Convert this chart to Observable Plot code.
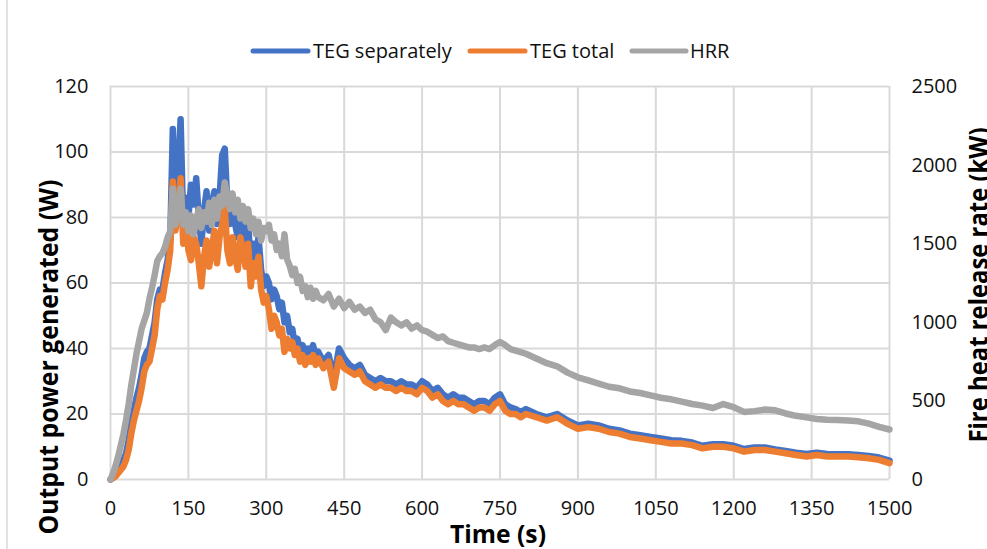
<!DOCTYPE html>
<html><head><meta charset="utf-8">
<script src="https://cdn.jsdelivr.net/npm/d3@7"></script>
<script src="https://cdn.jsdelivr.net/npm/@observablehq/plot@0.6"></script>
<style>
html,body{margin:0;padding:0;background:#fff;}
#chart{position:relative;width:987px;height:549px;overflow:hidden;}
</style></head><body><div id="chart"></div>
<script>
// Time (s)
const time = [
  0,5,10,15,20,25,30,35,40,45,
  50,55,60,65,70,75,80,85,90,95,
  100,105,110,115,120,125,130,135,140,145,
  150,155,160,165,170,175,180,185,190,195,
  200,205,210,215,220,225,230,235,240,245,
  250,255,260,265,270,275,280,285,290,295,
  300,305,310,315,320,325,330,335,340,345,
  350,355,360,365,370,375,380,385,390,395,
  400,
  410,420,430,440,450,460,470,480,490,500,
  510,520,530,540,550,560,570,580,590,600,
  610,620,630,640,650,660,670,680,690,700,
  710,720,730,740,750,760,770,780,790,800,
  820,840,860,880,900,920,940,960,980,1000,
  1020,1040,1060,1080,1100,1120,1140,1160,1180,1200,
  1220,1240,1260,1280,1300,1320,1340,1360,1380,1400,
  1420,1440,1460,1480,1500
];
// TEG separately (W)
const tegSeparately = [
  0,0.5,1.5,3,4,6,8,12,17,21,
  25,28,32,37,39,40,44,48,55,58,
  58,63,67,73,107,82,92,110,78,86,
  80,90,84,92,80,72,82,88,76,84,
  88,78,86,99,101,84,78,84,78,74,
  80,76,72,78,66,72,68,74,64,59,
  62,60,55,58,56,52,54,48,50,45,
  46,41,43,39,41,38,40,39,41,38,
  39,
  36,38,31,40,37,35,34,35,32,31,
  30,31,30,30,29,30,29,29,28,30,
  29,27,28,26,25,26,25,25,24,23,
  24,24,23,25,26,23,22,21.5,20.5,21.5,
  20,19,20,18,16.5,17,16.5,15.5,15,14,
  13.5,13,12.5,12,11.8,11.3,10.3,10.8,10.8,10.3,
  9.3,9.8,9.8,9.2,8.7,8.2,7.8,8.2,7.8,7.7,
  7.7,7.5,7.2,6.7,5.8
];
// TEG total (W)
const tegTotal = [
  0,0.5,1,2,3,4,6,9,14,18,
  21,24,28,33,35,36,40,44,52,56,
  55,60,64,70,91,76,82,92,72,80,
  70,67,74,72,66,59,68,73,65,70,
  76,66,74,78,83,70,66,74,68,64,
  74,70,65,72,59,66,62,68,58,54,
  56,52,46,50,48,44,46,39,43,40,
  42,38,40,36,38,35,37,36,38,35,
  37,
  34,36,28,37,34,33,32,33,30,29,
  28,29,28,28,27,28,27,27,26,28,
  27,25,26,24,23,24,23,23,22,21,
  22,22,21,23,24,21,20,20,19,20,
  19,18,19,17,15.5,16,15.5,14.5,14,13,
  12.5,12,11.5,11,11,10.5,9.5,10,10,9.5,
  8.5,9,9,8.5,8,7.5,7,7.5,7,7,
  7,6.8,6.5,6,5
];
// HRR (kW)
const hrr = [
  0,40,90,150,220,290,380,480,600,700,
  800,880,960,1010,1060,1150,1220,1300,1390,1420,
  1440,1480,1540,1580,1850,1620,1720,1850,1620,1700,
  1580,1680,1560,1650,1720,1600,1700,1640,1760,1620,
  1780,1660,1800,1740,1890,1800,1720,1820,1700,1780,
  1660,1740,1640,1720,1600,1660,1560,1640,1520,1600,
  1580,1620,1520,1560,1460,1500,1420,1560,1400,1360,
  1300,1340,1250,1290,1200,1230,1160,1220,1150,1200,
  1160,
  1140,1180,1100,1150,1090,1130,1080,1100,1060,1080,
  1020,1000,950,1030,1000,980,1000,960,980,950,
  940,920,900,910,880,870,860,850,840,840,
  830,840,830,855,875,855,830,820,810,800,
  770,740,720,680,650,630,610,590,580,560,
  550,535,520,510,495,480,470,455,480,460,
  430,435,445,440,420,405,395,385,380,378,
  375,370,355,335,318
];
const xTicks = [0,150,300,450,600,750,900,1050,1200,1350,1500];
const yTicks = [0,20,40,60,80,100,120];
const hrrTicks = [0,500,1000,1500,2000,2500];
const seriesNames = ["TEG separately","TEG total","HRR"];
const seriesColors = ["#4472c4","#ed7d31","#a5a5a5"];

const k = 120/2500; // right axis (kW) -> left axis (W)
const data = time.map((t,i)=>({t, sep: tegSeparately[i], tot: tegTotal[i], hrrW: hrr[i]*k}));

const lineOpts = {x:"t", strokeWidth:6.5, strokeLinejoin:"round", strokeLinecap:"round"};
const plot = Plot.plot({
  width:987, height:549,
  marginTop:86, marginBottom:70, marginLeft:110, marginRight:98,
  style:{fontFamily:"'Open Sans', sans-serif", fontSize:"20px", color:"#111", background:"#fff"},
  x:{domain:[0,1500]},
  y:{domain:[0,120]},
  marks:[
    Plot.gridX({ticks:xTicks, stroke:"#d9d9d9", strokeOpacity:1, strokeWidth:2}),
    Plot.gridY({ticks:yTicks, stroke:"#d9d9d9", strokeOpacity:1, strokeWidth:2}),
    Plot.axisX({ticks:xTicks, tickFormat:d=>String(d), tickSize:0, tickPadding:21, label:null, fontSize:20}),
    Plot.axisY({ticks:yTicks, tickFormat:d=>String(d), anchor:"left", tickSize:0, tickPadding:22, label:null, fontSize:20}),
    Plot.axisY({ticks:hrrTicks.map(v=>v*k), tickFormat:d=>String(Math.round(d/k)), anchor:"right", tickSize:0, tickPadding:22, label:null, fontSize:20}),
    Plot.line(data,{...lineOpts, y:"sep", stroke:seriesColors[0]}),
    Plot.line(data,{...lineOpts, y:"tot", stroke:seriesColors[1]}),
    Plot.line(data,{...lineOpts, y:"hrrW", stroke:seriesColors[2]})
  ]
});
document.getElementById("chart").appendChild(plot);

const svg = d3.select(plot);
// chart border (left edge)
svg.append("line").attr("x1",7).attr("x2",7).attr("y1",0).attr("y2",549).attr("stroke","#d9d9d9").attr("stroke-width",1.5);

// axis titles
const ff = "'Open Sans', sans-serif";
svg.append("text").attr("transform","translate(58,357) rotate(-90)")
  .attr("text-anchor","middle").attr("font-family",ff).attr("font-weight","bold").attr("font-size",27)
  .attr("textLength",355).attr("lengthAdjust","spacingAndGlyphs").attr("fill","#000")
  .text("Output power generated (W)");
svg.append("text").attr("transform","translate(988,285) rotate(-90)")
  .attr("text-anchor","middle").attr("font-family",ff).attr("font-weight","bold").attr("font-size",27)
  .attr("textLength",315).attr("lengthAdjust","spacingAndGlyphs").attr("fill","#000")
  .text("Fire heat release rate (kW)");
svg.append("text").attr("x",498).attr("y",543)
  .attr("text-anchor","middle").attr("font-family",ff).attr("font-weight","bold").attr("font-size",25)
  .attr("textLength",96).attr("lengthAdjust","spacingAndGlyphs").attr("fill","#000")
  .text("Time (s)");

// legend
const legX = [[253,308,313],[470,525,530],[632,686,690]];
const leg = svg.append("g").attr("text-anchor","start");
seriesNames.forEach((name,i)=>{
  leg.append("line").attr("x1",legX[i][0]).attr("x2",legX[i][1]).attr("y1",51).attr("y2",51)
    .attr("stroke",seriesColors[i]).attr("stroke-width",5).attr("stroke-linecap","round");
  leg.append("text").attr("x",legX[i][2]).attr("y",58).attr("text-anchor","start").attr("font-family",ff).attr("font-size",20)
    .attr("fill","#111").text(name);
});
</script></body></html>
